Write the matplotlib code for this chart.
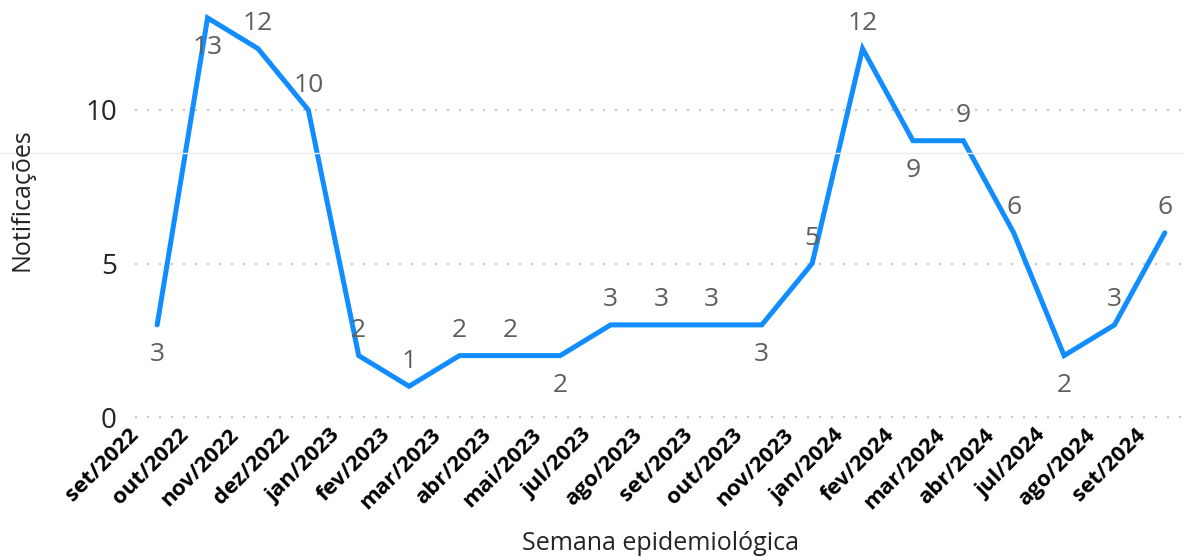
import matplotlib
matplotlib.use("Agg")
import matplotlib.pyplot as plt
from matplotlib.lines import Line2D
from matplotlib.transforms import ScaledTranslation

months = ["set/2022", "out/2022", "nov/2022", "dez/2022", "jan/2023", "fev/2023",
          "mar/2023", "abr/2023", "mai/2023", "jul/2023", "ago/2023", "set/2023",
          "out/2023", "nov/2023", "jan/2024", "fev/2024", "mar/2024", "abr/2024",
          "jul/2024", "ago/2024", "set/2024"]
values = [3, 13, 12, 10, 2, 1, 2, 2, 2, 3, 3, 3, 3, 5, 12, 9, 9, 6, 2, 3, 6]
label_pos = ["below", "below", "above", "above", "above", "above", "above", "above",
             "below", "above", "above", "above", "below", "above", "above", "below",
             "above", "above", "below", "above", "above"]
yticks = [0, 5, 10]

plt.rcParams['font.family'] = ['Open Sans', 'DejaVu Sans']

W, H = 1183, 557
fig = plt.figure(figsize=(W / 100, H / 100), dpi=100)
ax_left, ax_right = 135, 1183
y0_px = 417
px_per = 30.7
ytop = 13.5
ax_top = y0_px - ytop * px_per
ax = fig.add_axes([ax_left / W, 1 - y0_px / H, (ax_right - ax_left) / W, (y0_px - ax_top) / H])

x = list(range(len(months)))
ax.plot(x, values, color="#118DFF", lw=3.6, solid_capstyle="round", solid_joinstyle="miter", zorder=3)

ax.set_xlim(-0.44, 20.36)
ax.set_ylim(0, ytop)
ax.set_yticks(yticks)
ax.set_yticklabels([str(v) for v in yticks], fontsize=20, color="#252423")
for v in yticks:
    ax.axhline(v, color="#C8C8C8", lw=1.5, linestyle=(0, (1, 4.76)), zorder=1, clip_on=False)

ax.set_xticks(x)
ax.set_xticklabels(months, rotation=45, ha="right", va="center", rotation_mode="anchor",
                   fontsize=16, fontweight="bold", color="#000000")
ax.tick_params(axis="x", length=0, pad=0)
ax.tick_params(axis="y", length=0, pad=13)
shift = ScaledTranslation(-22 / 100, -15 / 100, fig.dpi_scale_trans)
for lbl in ax.get_xticklabels():
    lbl.set_transform(lbl.get_transform() + shift)

for s in ax.spines.values():
    s.set_visible(False)

for xi, v, pos in zip(x, values, label_pos):
    off = 18 if pos == "above" else -21.6
    ax.annotate(str(v), (xi, v), xytext=(0, off), textcoords="offset points",
                ha="center", va="center", fontsize=19, color="#605E5C", zorder=4)

fig.add_artist(Line2D([0, 1], [1 - 153 / H, 1 - 153 / H], color="#EDEDED", lw=1))

fig.text(660 / W, 1 - 543 / H, "Semana epidemiológica", ha="center", va="center",
         fontsize=18, color="#252423")
fig.text(22 / W, 1 - 200 / H, "Notificações", ha="center", va="center", rotation=90,
         fontsize=18, color="#252423")

fig.savefig("out.png", dpi=100, facecolor="white")
